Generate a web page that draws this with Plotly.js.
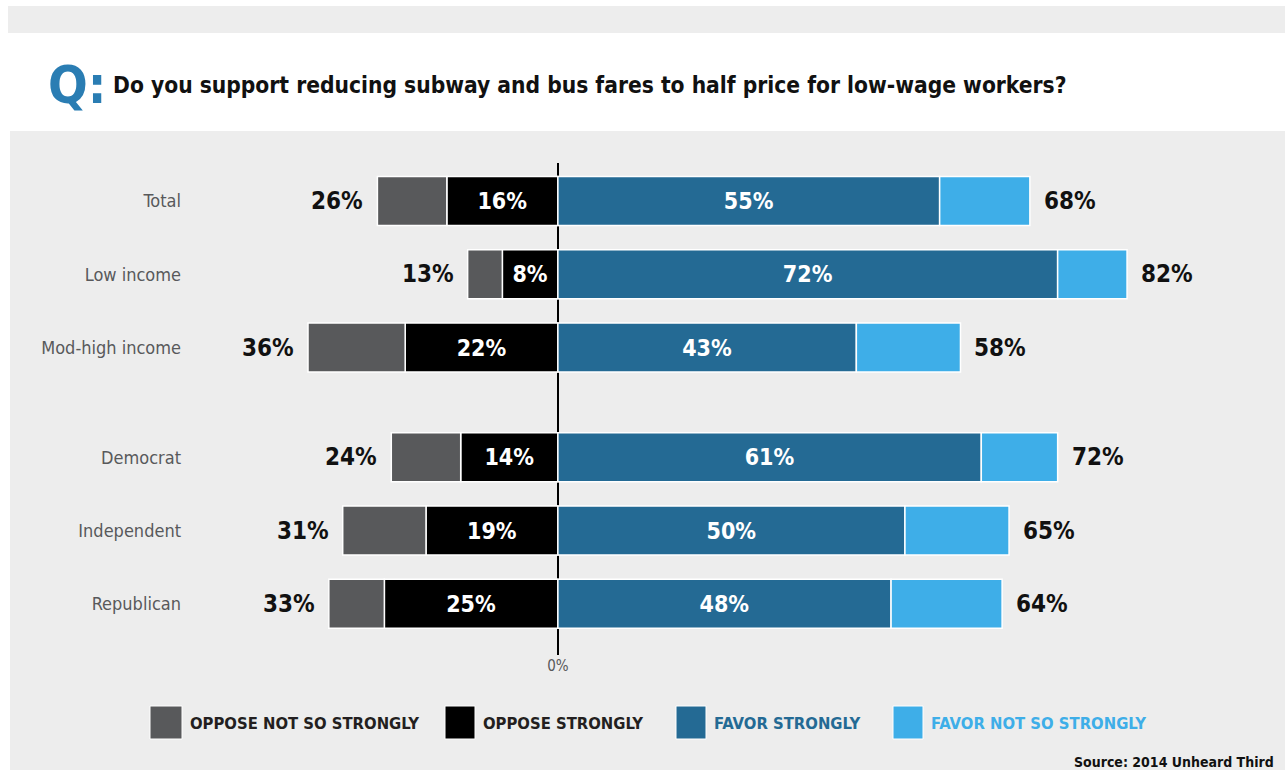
<!DOCTYPE html>
<html><head><meta charset="utf-8">
<script src="https://cdn.plot.ly/plotly-3.0.1.min.js"></script>
<style>html,body{margin:0;padding:0;background:#fff;}#chart{width:1285px;height:770px;}</style>
</head><body><div id="chart"></div>
<script>
// ---- data ----
const categories = ['Total', 'Low income', 'Mod-high income', 'Democrat', 'Independent', 'Republican'];
const opposeStrongly = [16, 8, 22, 14, 19, 25];
const opposeTotal = [26, 13, 36, 24, 31, 33];
const favorStrongly = [55, 72, 43, 61, 50, 48];
const favorTotal = [68, 82, 58, 72, 65, 64];
const seriesNames = ['OPPOSE NOT SO STRONGLY', 'OPPOSE STRONGLY', 'FAVOR STRONGLY', 'FAVOR NOT SO STRONGLY'];
const zeroTickLabel = '0%';
const questionText = 'Do you support reducing subway and bus fares to half price for low-wage workers?';
const sourceText = 'Source: 2014 Unheard Third';

// ---- style ----
const FONT = '"Liberation Sans Narrow", "DejaVu Sans Condensed", "Arial Narrow", "Roboto Condensed", sans-serif';
const colors = ['#58595b', '#000000', '#246a94', '#3eaee8'];
const legendTextColors = ['#231f20', '#231f20', '#246a94', '#3eaee8'];

// group gap between income rows and party rows
const yPos = categories.map((c, i) => i + (i >= 3 ? 0.5 : 0));
const pct = v => v + '%';

const L = 190, T = 163, W = 1062, H = 492;
const px = p => (p - L) / W;
const py = p => 1 - (p - T) / H;

const barCommon = {
  type: 'bar', orientation: 'h', width: 0.67, y: yPos,
  hoverinfo: 'skip', showlegend: false, constraintext: 'none', textangle: 0,
  textposition: 'inside', insidetextanchor: 'middle',
  textfont: {family: FONT, size: 23, color: '#ffffff', weight: 'bold'}
};

const traces = [
  Object.assign({}, barCommon, {
    name: seriesNames[1], x: opposeStrongly.map(v => -v),
    text: opposeStrongly.map(pct),
    marker: {color: colors[1], line: {color: '#ffffff', width: 1.5}}
  }),
  Object.assign({}, barCommon, {
    name: seriesNames[0], x: opposeTotal.map((v, i) => -(v - opposeStrongly[i])),
    text: opposeTotal.map(() => ''),
    marker: {color: colors[0], line: {color: '#ffffff', width: 1.5}}
  }),
  Object.assign({}, barCommon, {
    name: seriesNames[2], x: favorStrongly,
    text: favorStrongly.map(pct),
    marker: {color: colors[2], line: {color: '#ffffff', width: 1.5}}
  }),
  Object.assign({}, barCommon, {
    name: seriesNames[3], x: favorTotal.map((v, i) => v - favorStrongly[i]),
    text: favorTotal.map(() => ''),
    marker: {color: colors[3], line: {color: '#ffffff', width: 1.5}}
  })
];

const annotations = [];
categories.forEach((c, i) => {
  annotations.push({x: -opposeTotal[i], y: yPos[i], xref: 'x', yref: 'y', text: pct(opposeTotal[i]),
    showarrow: false, xanchor: 'right', xshift: -12,
    font: {family: FONT, size: 24, color: '#111111', weight: 'bold'}});
  annotations.push({x: favorTotal[i], y: yPos[i], xref: 'x', yref: 'y', text: pct(favorTotal[i]),
    showarrow: false, xanchor: 'left', xshift: 12,
    font: {family: FONT, size: 24, color: '#111111', weight: 'bold'}});
});

// Q: marker
annotations.push({xref: 'paper', yref: 'paper', x: px(46), y: py(85), xanchor: 'left', yanchor: 'middle',
  text: 'Q:', showarrow: false, font: {family: FONT, size: 52, color: '#2a7db3', weight: 'bold'}});

// legend (custom)
const legendSquares = [[150, 182], [445, 475], [676, 706], [893, 923]];
const legendOrder = [0, 1, 2, 3];
const shapes = [
  {type: 'rect', xref: 'paper', yref: 'paper', x0: px(8), x1: px(1285), y0: py(6), y1: py(33),
   fillcolor: '#ededed', line: {width: 0}, layer: 'below'},
  {type: 'rect', xref: 'paper', yref: 'paper', x0: px(10), x1: px(1285), y0: py(131), y1: py(770),
   fillcolor: '#ededed', line: {width: 0}, layer: 'below'}
];
legendOrder.forEach((k, j) => {
  const [a, b] = legendSquares[j];
  shapes.push({type: 'rect', xref: 'paper', yref: 'paper', x0: px(a), x1: px(b), y0: py(706), y1: py(739),
    fillcolor: colors[k], line: {color: '#ffffff', width: 1}, layer: 'above'});
  annotations.push({xref: 'paper', yref: 'paper', x: px(b + 6), y: py(723), xanchor: 'left', yanchor: 'middle',
    text: seriesNames[k], showarrow: false,
    font: {family: FONT, size: 16.5, color: legendTextColors[k], weight: 'bold'}});
});

annotations.push({xref: 'paper', yref: 'paper', x: px(1276), y: py(762), xanchor: 'right', yanchor: 'middle',
  text: sourceText, showarrow: false, font: {family: FONT, size: 14, color: '#111111', weight: 'bold'}});

const layout = {
  width: 1285, height: 770,
  margin: {l: L, r: 1285 - L - W, t: T, b: 770 - T - H, pad: 0},
  paper_bgcolor: '#ffffff', plot_bgcolor: 'rgba(0,0,0,0)',
  barmode: 'relative', bargap: 0, showlegend: false,
  title: {text: questionText, xref: 'container', yref: 'container', x: 113 / 1285, xanchor: 'left',
    y: 1 - 85 / 770, yanchor: 'middle',
    font: {family: FONT, size: 22.6, color: '#111111', weight: 'bold'}},
  xaxis: {range: [-53, 100], showgrid: false, zeroline: true, zerolinecolor: '#000000', zerolinewidth: 1.5,
    tickvals: [0], ticktext: [zeroTickLabel], ticks: '', showline: false, fixedrange: true,
    tickfont: {family: FONT, size: 15, color: '#58595b'}},
  yaxis: {range: [6.2, -0.52], showgrid: false, zeroline: false, showline: false, ticks: '',
    tickvals: yPos, ticktext: categories, ticklabelstandoff: 8, fixedrange: true,
    tickfont: {family: FONT, size: 18, color: '#58595b'}},
  shapes: shapes,
  annotations: annotations
};

Plotly.newPlot('chart', traces, layout, {staticPlot: true, displayModeBar: false});
</script>
</body></html>
